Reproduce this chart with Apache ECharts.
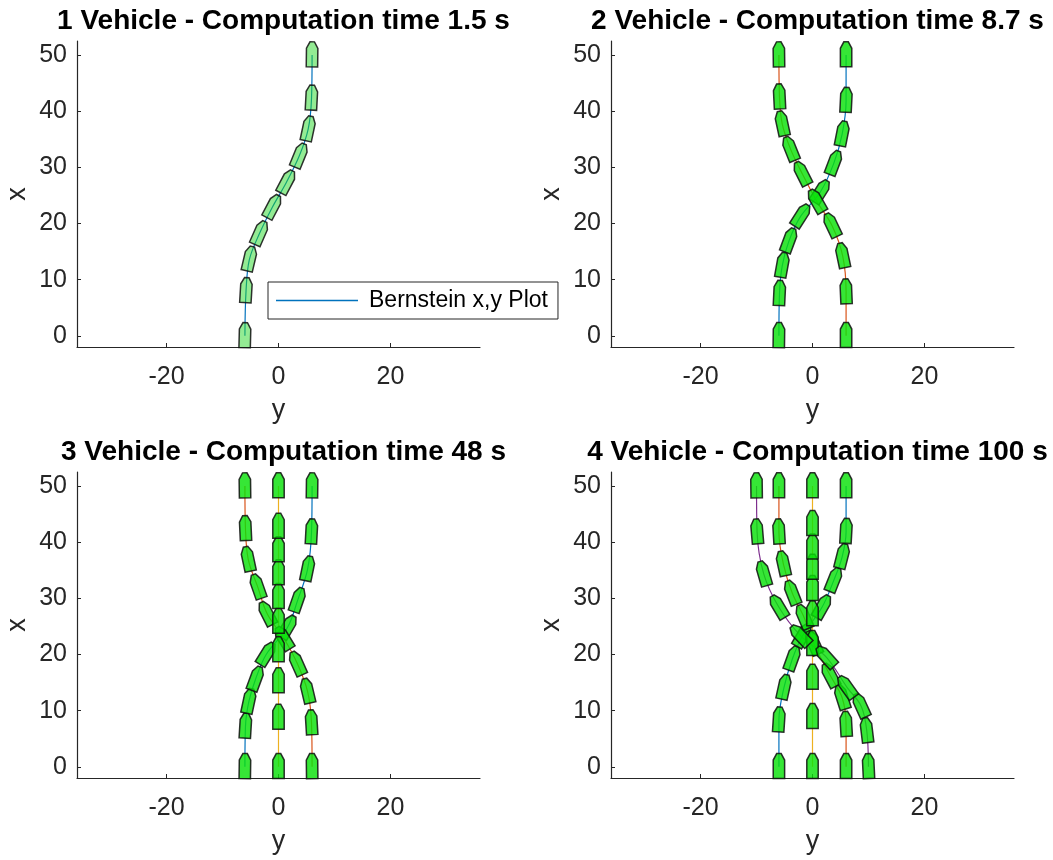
<!DOCTYPE html>
<html>
<head>
<meta charset="utf-8">
<title>Bernstein vehicle paths</title>
<script src="https://cdn.jsdelivr.net/npm/echarts@6/dist/echarts.min.js"></script>
<style>
html, body { margin: 0; padding: 0; background: #fff; }
#main { width: 1053px; height: 860px; }
</style>
</head>
<body>
<div id="main"></div>
<script>
// subplot titles
var titles = [
  '1 Vehicle - Computation time 1.5 s',
  '2 Vehicle - Computation time 8.7 s',
  '3 Vehicle - Computation time 48 s',
  '4 Vehicle - Computation time 100 s'
]
var yTicks = [-20, 0, 20]
var xTicks = [0, 10, 20, 30, 40, 50]
var legendName = 'Bernstein x,y Plot'

// vehicle positions [y, x], one array per vehicle
var p1Blue = [[-6, 0], [-5.8, 8], [-5.2, 13.6], [-3.4, 18.2], [-1.1, 22.9], [1.4, 27.3], [3.7, 32], [5.3, 36.8], [5.9, 42.3], [6, 50]]

var p2Blue = [[-6, 0], [-5.9, 7.5], [-5.4, 12.5], [-4.2, 16.9], [-2.1, 21.3], [1.4, 25.6], [3.8, 30.7], [5.3, 35.9], [6, 41.9], [6, 50]]
var p2Red = [[6, 0], [6, 7.8], [5.4, 14.2], [3.5, 19.6], [0.8, 23.9], [-1.8, 28.8], [-3.9, 33.2], [-5.4, 37.7], [-5.9, 42.5], [-6, 50]]

var p3Blue = [[-6, 0], [-5.9, 7.2], [-5.3, 11.6], [-4.1, 15.6], [-2.2, 20.0], [1.6, 24.8], [3.4, 29.6], [5.2, 35.2], [5.9, 41.8], [6, 50]]
var p3Red = [[6, 0], [5.9, 7.8], [5.2, 13.4], [3.4, 18.3], [1.0, 22.8], [-2.0, 27.2], [-3.7, 32.0], [-5.4, 36.9], [-5.9, 42.4], [-6, 50]]
var p3Yellow = [[0, 0], [0, 8.8], [0, 15.3], [0, 20.8], [0, 25.9], [0, 30.3], [0, 34.5], [0, 38.6], [0, 42.8], [0, 50]]

var p4Blue = [[-6, 0], [-6, 8.3], [-5.1, 14.1], [-3.6, 19.2], [-1.8, 23.3], [1.7, 28.4], [3.8, 33.2], [5.3, 37.4], [6, 41.9], [6, 50]]
var p4Red = [[6, 0], [6, 7.5], [5.3, 12.3], [3.2, 16.2], [0.2, 22.0], [-1.5, 26.6], [-3.6, 30.9], [-5.2, 36.1], [-6, 41.8], [-6, 50]]
var p4Yellow = [[0, 0], [0, 8.9], [0, 15.9], [0, 21.9], [0, 27.2], [0, 31.7], [0, 35.5], [0, 39.1], [0, 43.3], [0, 50]]
var p4Purple = [[10, 0], [9.7, 6.4], [8.7, 10.8], [6.2, 14.1], [2.5, 19.5], [-2.1, 23.3], [-6.0, 28.4], [-8.7, 34.3], [-9.9, 41.8], [-10, 50]]

var BLUE = '#0072BD'
var RED = '#D95319'
var YELLOW = '#EDB120'
var PURPLE = '#7E2F8E'
var TEXT = '#262626'

var panels = [
  { paths: [p1Blue], colors: [BLUE], fill: 'rgba(40,215,40,0.5)' },
  { paths: [p2Blue, p2Red], colors: [BLUE, RED], fill: 'rgba(10,225,10,0.82)' },
  { paths: [p3Blue, p3Red, p3Yellow], colors: [BLUE, RED, YELLOW], fill: 'rgba(10,225,10,0.82)' },
  { paths: [p4Blue, p4Red, p4Yellow, p4Purple], colors: [BLUE, RED, YELLOW, PURPLE], fill: 'rgba(10,225,10,0.82)' }
]

// grid placement (pixels)
var gridPos = [[77, 41], [611, 41], [77, 472], [611, 472]]
var gridW = 403
var gridH = 306

// vehicle outline in local units: [lateral, forward]
var SHAPE = [[-1.02, -2.1], [1.02, -2.1], [1.02, 1.2], [0.4, 2.35], [-0.4, 2.35], [-1.02, 1.2]]

function headingOf (path, i) {
  var a = path[Math.max(i - 1, 0)]
  var b = path[Math.min(i + 1, path.length - 1)]
  return Math.atan2(b[0] - a[0], b[1] - a[1])
}

function makeVehicleRender (fill) {
  return function (params, api) {
    var cy = api.value(0)
    var cx = api.value(1)
    var h = api.value(2)
    var pts = SHAPE.map(function (p) {
      var dy = p[0] * Math.cos(h) + p[1] * Math.sin(h)
      var dx = -p[0] * Math.sin(h) + p[1] * Math.cos(h)
      return api.coord([cy + dy, cx + dx])
    })
    return {
      type: 'polygon',
      shape: { points: pts },
      style: { fill: fill, stroke: 'rgba(15,15,15,0.85)', lineWidth: 1.5 }
    }
  }
}

var grid = []
var xAxis = []
var yAxis = []
var title = []
var series = []

panels.forEach(function (panel, k) {
  grid.push({ left: gridPos[k][0], top: gridPos[k][1], width: gridW, height: gridH })
  title.push({
    text: titles[k],
    left: gridPos[k][0] + gridW / 2,
    top: gridPos[k][1] - 39,
    textAlign: 'center',
    textStyle: { fontFamily: 'Liberation Sans', fontSize: 28, fontWeight: 'bold', color: '#000' }
  })
  xAxis.push({
    gridIndex: k,
    type: 'value',
    min: -36,
    max: 36,
    name: 'y',
    nameLocation: 'middle',
    nameGap: 50,
    nameTextStyle: { fontFamily: 'Liberation Sans', fontSize: 27, color: TEXT },
    axisLine: { onZero: false, lineStyle: { color: TEXT, width: 1.2 } },
    axisTick: { inside: true, length: 4, customValues: yTicks, lineStyle: { color: TEXT } },
    axisLabel: { customValues: yTicks, margin: 18, fontFamily: 'Liberation Sans', fontSize: 25, color: TEXT },
    splitLine: { show: false }
  })
  yAxis.push({
    gridIndex: k,
    type: 'value',
    min: -2,
    max: 52.5,
    name: 'x',
    nameLocation: 'middle',
    nameGap: 46,
    nameRotate: 90,
    nameTextStyle: { fontFamily: 'Liberation Sans', fontSize: 27, color: TEXT },
    axisLine: { show: true, onZero: false, lineStyle: { color: TEXT, width: 1.2 } },
    axisTick: { show: true, inside: true, length: 4, customValues: xTicks, lineStyle: { color: TEXT } },
    axisLabel: { customValues: xTicks, margin: 10, fontFamily: 'Liberation Sans', fontSize: 25, color: TEXT },
    splitLine: { show: false }
  })

  var vehicles = []
  panel.paths.forEach(function (path, j) {
    series.push({
      name: k === 0 ? legendName : 'path ' + (k + 1) + '-' + (j + 1),
      type: 'line',
      xAxisIndex: k,
      yAxisIndex: k,
      data: path,
      smooth: 0.35,
      showSymbol: false,
      color: panel.colors[j],
      lineStyle: { color: panel.colors[j], width: 1.2 },
      z: 2
    })
    path.forEach(function (p, i) {
      vehicles.push([p[0], p[1], headingOf(path, i)])
    })
  })
  series.push({
    type: 'custom',
    xAxisIndex: k,
    yAxisIndex: k,
    data: vehicles,
    encode: { x: 0, y: 1 },
    renderItem: makeVehicleRender(panel.fill),
    z: 3
  })
})

var chart = echarts.init(document.getElementById('main'))
chart.setOption({
  animation: false,
  backgroundColor: '#fff',
  title: title,
  grid: grid,
  xAxis: xAxis,
  yAxis: yAxis,
  legend: {
    data: [legendName],
    left: 268,
    top: 282,
    orient: 'horizontal',
    icon: 'rect',
    itemWidth: 82,
    itemHeight: 1.5,
    itemGap: 10,
    padding: [7, 10, 7, 8],
    backgroundColor: '#fff',
    borderColor: TEXT,
    borderWidth: 1,
    borderRadius: 0,
    selectedMode: false,
    textStyle: { fontFamily: 'Liberation Sans', fontSize: 23, color: '#000', padding: [0, 0, 0, 6] }
  },
  series: series
})
</script>
</body>
</html>
